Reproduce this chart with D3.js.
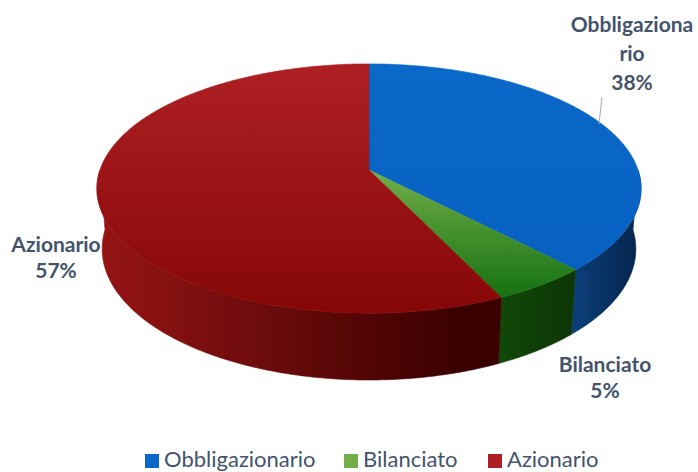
<!DOCTYPE html>
<html>
<head>
<meta charset="utf-8">
<title>Ripartizione</title>
<style>
  body { margin: 0; background: #fff; }
  svg { display: block; }
  .lbl { font-family: Lato, "Open Sans", sans-serif; font-weight: bold; fill: #44546A; }
  .leg { font-family: Lato, "Open Sans", sans-serif; fill: #44546A; }
</style>
</head>
<body>
<div class="plot_container"></div>
<script src="https://cdn.jsdelivr.net/npm/d3@7"></script>
<script>
var categories = ["Obbligazionario", "Bilanciato", "Azionario"];
var values = [38, 5, 57];
// how the data labels wrap in the original
var labelText = [["Obbligaziona", "rio"], ["Bilanciato"], ["Azionario"]];

var topColors = [["#0a68c9", "#0660c0"], ["#72ae4a", "#137010"], ["#ae1f23", "#860707"]];
var sideColors = [["#0b3e78", "#05244c"], ["#114808", "#0b3405"], ["#961414", "#3a0000"]];

var width = 698, height = 472;
var svg = d3.select(".plot_container").append("svg")
    .attr("width", width)
    .attr("height", height);

// simple perspective camera for a tilted disc
var cx = 369, cy = 170;
var D = 5.995, f = 1613, thick = 0.254;
var sinA = 0.453, cosA = Math.sqrt(1 - sinA * sinA);

function project(theta, h) {
    var x = Math.sin(theta), zw = Math.cos(theta);
    var d = D + zw * cosA - h * sinA;
    var v = zw * sinA + h * cosA;
    return [cx + f * x / d, cy - f * v / d];
}

function arcPts(a0, a1, h) {
    var n = Math.max(2, Math.ceil((a1 - a0) / 0.01));
    var pts = [];
    for (var i = 0; i <= n; i++) pts.push(project(a0 + (a1 - a0) * i / n, h));
    return pts;
}

var pie = d3.pie().sort(null).value(function(d){ return d; });
var arcs = pie(values);
var total = d3.sum(values);
var pct = d3.format(".0%");

var defs = svg.append("defs");
arcs.forEach(function(a, i){
    var gt = defs.append("linearGradient").attr("id", "top" + i)
        .attr("gradientUnits", "userSpaceOnUse")
        .attr("x1", 0).attr("x2", 0)
        .attr("y1", i == 1 ? 170 : 64).attr("y2", i == 1 ? 300 : 313);
    gt.append("stop").attr("offset", 0).attr("stop-color", topColors[i][0]);
    gt.append("stop").attr("offset", 1).attr("stop-color", topColors[i][1]);
    var gs = defs.append("linearGradient").attr("id", "side" + i)
        .attr("gradientUnits", "userSpaceOnUse")
        .attr("y1", 0).attr("y2", 0)
        .attr("x1", i == 0 ? 575 : (i == 1 ? 500 : 100))
        .attr("x2", i == 0 ? 640 : (i == 1 ? 580 : 460));
    gs.append("stop").attr("offset", 0).attr("stop-color", sideColors[i][0]);
    gs.append("stop").attr("offset", 1).attr("stop-color", sideColors[i][1]);
});

var line = d3.line();

// outer walls, front half only
var half = Math.PI / 2;
svg.selectAll(".side")
    .data(arcs)
    .enter()
    .append("path")
    .attr("class", "side")
    .attr("d", function(a){
        var s = Math.max(a.startAngle, half), e = Math.min(a.endAngle, 3 * half);
        if (e <= s) return null;
        var pts = arcPts(s, e, 0).concat(arcPts(s, e, -thick).reverse());
        return line(pts) + "Z";
    })
    .style("fill", function(a, i){ return "url(#side" + i + ")"; })
    .style("stroke", function(a, i){ return "url(#side" + i + ")"; })
    .style("stroke-width", 0.6);

// top faces
svg.selectAll(".top")
    .data(arcs)
    .enter()
    .append("path")
    .attr("class", "top")
    .attr("d", function(a){
        var pts = [[cx, cy]].concat(arcPts(a.startAngle, a.endAngle, 0));
        return line(pts) + "Z";
    })
    .style("fill", function(a, i){ return "url(#top" + i + ")"; })
    .style("stroke", function(a, i){ return "url(#top" + i + ")"; })
    .style("stroke-width", 0.6);

// leader line for the first label
svg.append("line")
    .attr("x1", 602).attr("y1", 97)
    .attr("x2", 599).attr("y2", 124)
    .style("stroke", "#9eabbf")
    .style("stroke-width", 1);

// data labels
var labelPos = [[632, 32, 29], [605, 372, 26], [56, 252, 26]];
arcs.forEach(function(a, i){
    var lines = labelText[i].concat([pct(a.value / total)]);
    var t = svg.append("text").attr("class", "lbl")
        .attr("text-anchor", "middle")
        .style("font-size", "21px");
    lines.forEach(function(s, k){
        t.append("tspan")
            .attr("x", labelPos[i][0])
            .attr("y", labelPos[i][1] + k * labelPos[i][2])
            .text(s);
    });
});

// legend (nudged up a little so the text is not clipped)
var legX = [145, 344, 488];
var leg = svg.selectAll(".legitem")
    .data(categories)
    .enter()
    .append("g")
    .attr("class", "legitem")
    .attr("transform", function(d, i){ return "translate(" + legX[i] + ",0)"; });
leg.append("rect")
    .attr("x", 0).attr("y", 454)
    .attr("width", 14).attr("height", 14)
    .style("fill", function(d, i){ return topColors[i][0]; });
leg.append("text")
    .attr("class", "leg")
    .attr("x", 19).attr("y", 467)
    .style("font-size", "22px")
    .text(function(d){ return d; });
</script>
</body>
</html>
